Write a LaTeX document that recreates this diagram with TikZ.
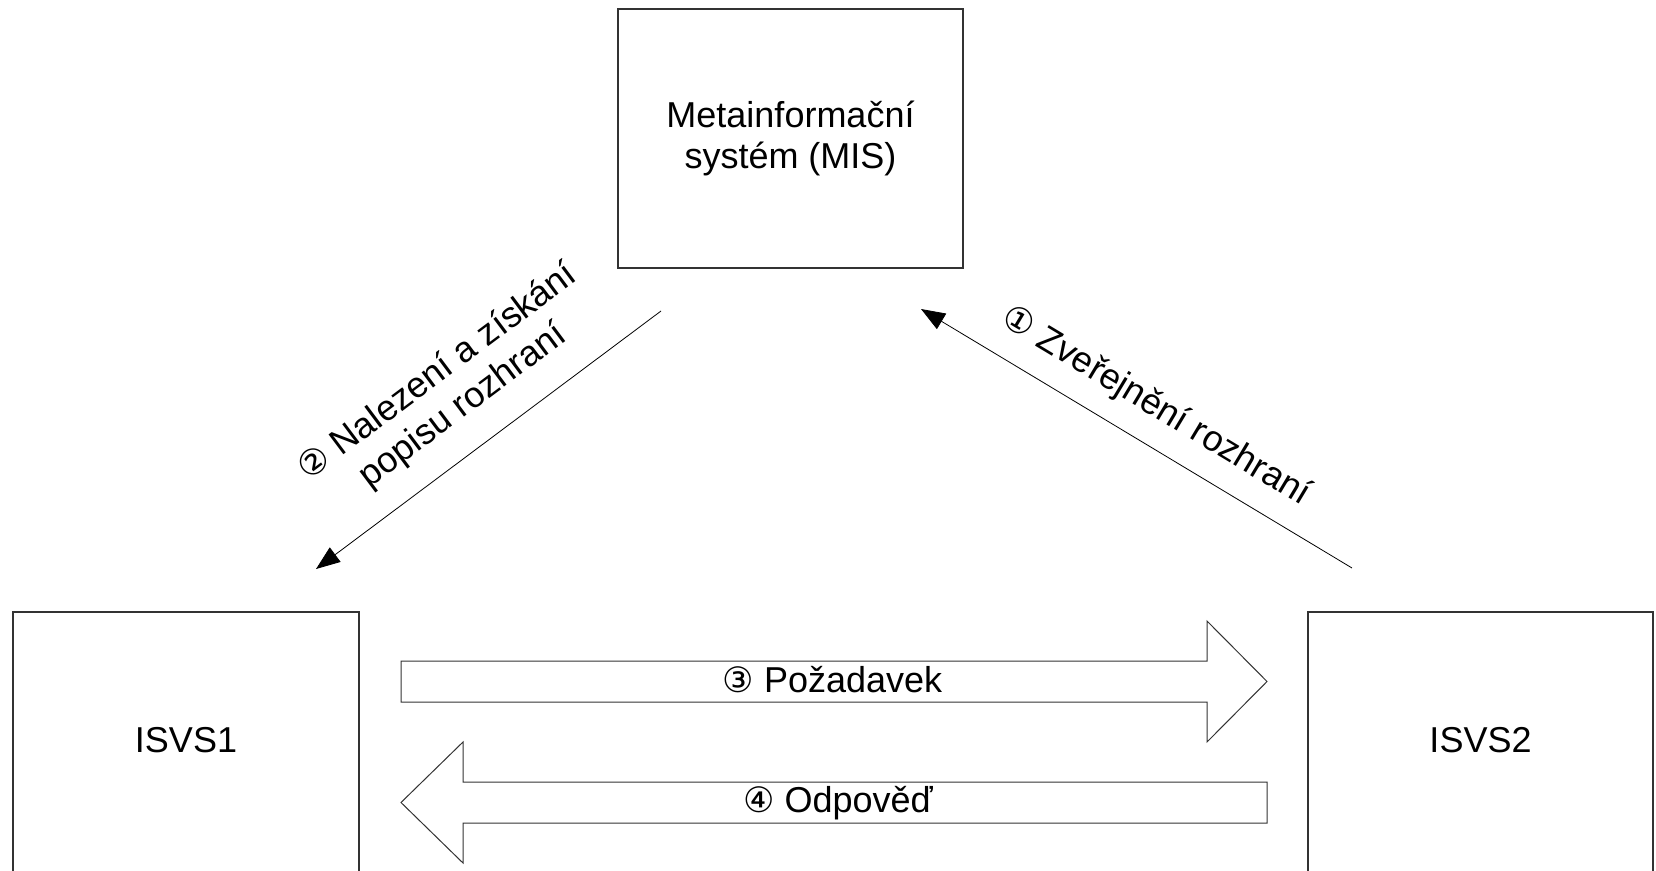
\documentclass[tikz,border=0pt]{standalone}
\usepackage{fontspec}
\setmainfont{Liberation Sans}
\newfontfamily\circfont{DejaVu Sans}
\usetikzlibrary{arrows.meta,calc}
\newcommand\circd[1]{{\fontsize{35}{41}\circfont #1}}
\begin{document}
\begin{tikzpicture}[x=1pt,y=-1pt,
  box/.style={draw=black!80, line width=1.1pt, rectangle, inner sep=0pt, align=center, font=\fontsize{36}{41}\selectfont},
  blockarrow/.style={draw=black!80, line width=1pt, fill=white},
  thinarrow/.style={draw=black, line width=0.8pt, -{Triangle[length=24pt,width=18pt]}},
  lbl/.style={font=\fontsize{36}{42}\selectfont, align=center, inner sep=0pt}
]
\useasboundingbox (0,0) rectangle (1656,870);
% boxes
\node[box, minimum width=345, minimum height=259] (mis) at (790.5,138.5) {Metainformační\\systém (MIS)};
\node[box, minimum width=346, minimum height=272] (isvs1) at (186,748) {\raisebox{16pt}{ISVS1}};
\node[box, minimum width=345, minimum height=272] (isvs2) at (1480.5,748) {\raisebox{16pt}{ISVS2}};
% block arrows
\coordinate (rqA) at (401,681.5);
\coordinate (rqB) at (1267,681.5);
\draw[blockarrow] (401,661) -- (1207,661) -- (1207,621) -- (rqB) -- (1207,742) -- (1207,702) -- (401,702) -- cycle;
\node[lbl, anchor=base] (req) at (832.5,692) {\circd{③} Požadavek};
\coordinate (rsA) at (1267,802.5);
\coordinate (rsB) at (401,802.5);
\draw[blockarrow] (1267,782) -- (463,782) -- (463,742) -- (rsB) -- (463,863) -- (463,823) -- (1267,823) -- cycle;
\node[lbl, anchor=base] (resp) at (838,812) {\circd{④} Odpověď};
% diagonal arrows
\coordinate (p2s) at (661,311);
\coordinate (p2e) at (316,569);
\draw[thinarrow] (p2s) -- (p2e);
\coordinate (m2) at ($(p2s)!0.5!(p2e)$);
\node[lbl, rotate=36.8] (l2) at ($(m2)!63pt!90:(p2s)$) {\circd{②} Nalezení a získání\\popisu rozhraní};
\coordinate (p1s) at (1352,568);
\coordinate (p1e) at (921,309);
\draw[thinarrow] (p1s) -- (p1e);
\coordinate (m1) at ($(p1s)!0.5!(p1e)$);
\node[lbl, rotate=-31] (l1) at ($(m1)!37pt!90:(p1s)$) {\circd{①} Zveřejnění rozhraní};
\end{tikzpicture}
\end{document}
